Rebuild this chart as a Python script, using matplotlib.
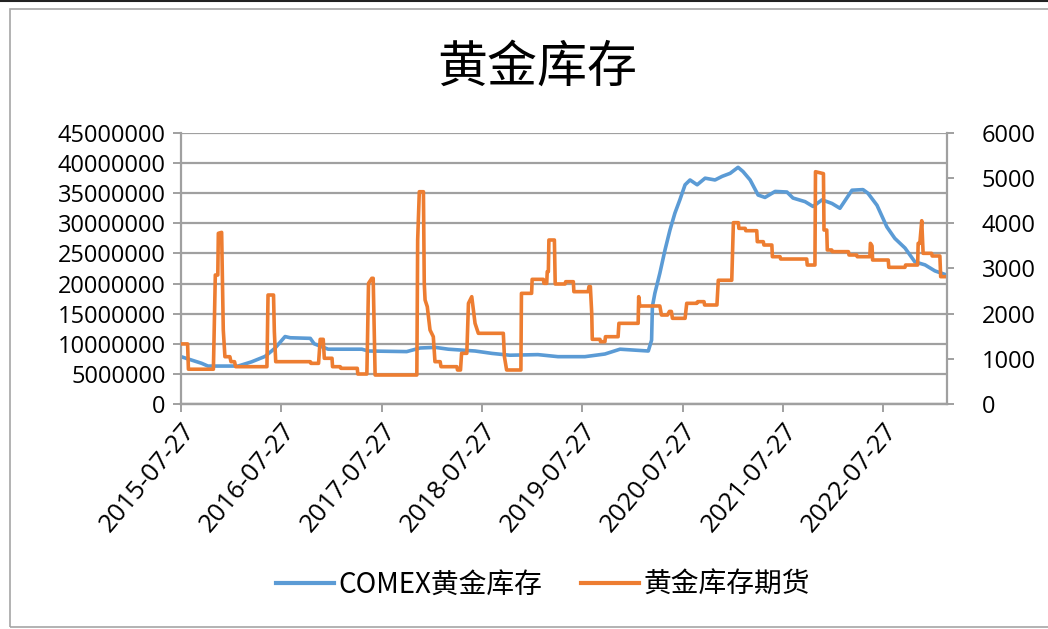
import matplotlib
matplotlib.use("Agg")
import matplotlib.pyplot as plt
import matplotlib.dates as mdates
import pandas as pd
from matplotlib.lines import Line2D

plt.rcParams["font.family"] = ["Noto Sans CJK SC", "DejaVu Sans"]

# COMEX 黄金库存 (左轴)
comex_dates = ["2015-07-27", "2015-10-10", "2015-11-02", "2016-02-20", "2016-04-09", "2016-05-28",
               "2016-07-03", "2016-08-09", "2016-08-28", "2016-11-09", "2016-11-23", "2017-01-13",
               "2017-05-16", "2017-06-08", "2017-10-26", "2017-12-14", "2018-02-07", "2018-03-27",
               "2018-07-02", "2018-09-02", "2018-11-06", "2019-02-16", "2019-04-30", "2019-08-06",
               "2019-10-18", "2019-12-12", "2020-03-24", "2020-04-05", "2020-04-08", "2020-04-17",
               "2020-05-05", "2020-05-24", "2020-06-11", "2020-06-29", "2020-07-17", "2020-08-05",
               "2020-08-23", "2020-09-18", "2020-10-17", "2020-11-22", "2020-12-18", "2021-01-16",
               "2021-02-14", "2021-03-04", "2021-03-30", "2021-04-28", "2021-05-23", "2021-06-29",
               "2021-08-11", "2021-09-02", "2021-10-16", "2021-11-14", "2021-12-17", "2022-01-22",
               "2022-02-20", "2022-04-05", "2022-05-15", "2022-06-02", "2022-07-05", "2022-08-10",
               "2022-09-08", "2022-10-15", "2022-11-20", "2022-12-27", "2023-02-01", "2023-03-17"]
comex_stock = [7860000, 6760000, 6300000, 6300000, 7000000, 7900000,
               9250000, 11200000, 11000000, 10900000, 10000000, 9100000,
               9100000, 8800000, 8700000, 9300000, 9400000, 9100000,
               8800000, 8400000, 8100000, 8200000, 7860000, 7860000,
               8300000, 9100000, 8800000, 10600000, 16200000, 18400000,
               21700000, 25600000, 28900000, 31700000, 33900000, 36400000,
               37200000, 36400000, 37500000, 37200000, 37800000, 38300000,
               39300000, 38600000, 37200000, 34700000, 34300000, 35300000,
               35200000, 34200000, 33600000, 32800000, 33900000, 33300000,
               32500000, 35500000, 35600000, 35000000, 33000000, 29400000,
               27500000, 25900000, 23600000, 23100000, 22100000, 21400000]

# 黄金库存期货 (右轴)
fut_dates = ["2015-07-27", "2015-08-20", "2015-08-23", "2015-11-22", "2015-11-26", "2015-11-29",
             "2015-12-08", "2015-12-10", "2015-12-22", "2015-12-28", "2016-01-03", "2016-01-21",
             "2016-01-25", "2016-02-07", "2016-02-11", "2016-06-04", "2016-06-08", "2016-06-28",
             "2016-07-01", "2016-07-06", "2016-11-09", "2016-11-11", "2016-12-09", "2016-12-15",
             "2016-12-26", "2016-12-30", "2017-01-27", "2017-01-29", "2017-02-26", "2017-02-28",
             "2017-04-29", "2017-05-01", "2017-06-03", "2017-06-09", "2017-06-21", "2017-06-26",
             "2017-07-03", "2017-12-02", "2017-12-05", "2017-12-11", "2017-12-26", "2017-12-29",
             "2018-01-01", "2018-01-09", "2018-01-19", "2018-01-31", "2018-02-06", "2018-02-25",
             "2018-02-28", "2018-04-27", "2018-04-29", "2018-05-10", "2018-05-14", "2018-06-02",
             "2018-06-08", "2018-06-20", "2018-07-02", "2018-07-14", "2018-10-13", "2018-10-17",
             "2018-10-25", "2018-12-16", "2018-12-18", "2019-01-24", "2019-01-26", "2019-03-08",
             "2019-03-10", "2019-03-20", "2019-03-22", "2019-03-26", "2019-03-28", "2019-04-17",
             "2019-04-20", "2019-05-26", "2019-05-28", "2019-06-25", "2019-06-27", "2019-08-18",
             "2019-08-21", "2019-08-26", "2019-08-31", "2019-09-02", "2019-09-30", "2019-10-02",
             "2019-10-18", "2019-10-20", "2019-12-05", "2019-12-08", "2020-02-16", "2020-02-18",
             "2020-02-22", "2020-05-05", "2020-05-11", "2020-06-02", "2020-06-09", "2020-06-16",
             "2020-06-20", "2020-08-05", "2020-08-11", "2020-09-17", "2020-09-20", "2020-10-13",
             "2020-10-15", "2020-11-29", "2020-12-04", "2021-01-22", "2021-01-28", "2021-02-15",
             "2021-02-17", "2021-03-12", "2021-03-14", "2021-04-23", "2021-04-25", "2021-05-17",
             "2021-05-19", "2021-06-17", "2021-06-19", "2021-07-17", "2021-07-19", "2021-10-22",
             "2021-10-24", "2021-11-21", "2021-11-23", "2021-12-22", "2021-12-24", "2022-01-03",
             "2022-01-05", "2022-01-21", "2022-01-23", "2022-03-23", "2022-03-25", "2022-04-22",
             "2022-04-24", "2022-06-09", "2022-06-11", "2022-06-17", "2022-06-19", "2022-08-15",
             "2022-08-17", "2022-10-15", "2022-10-17", "2022-11-30", "2022-12-02", "2022-12-08",
             "2022-12-15", "2022-12-20", "2023-01-20", "2023-01-22", "2023-02-19", "2023-02-22",
             "2023-03-17"]
fut_stock = [1330, 1330, 770, 770, 2000, 2856,
             2856, 3779, 3800, 1638, 1047, 1047,
             937, 937, 826, 826, 2413, 2413,
             1601, 937, 937, 900, 900, 1432,
             1432, 1012, 1012, 826, 826, 790,
             790, 664, 664, 2672, 2783, 2783,
             642, 642, 3631, 4700, 4700, 2672,
             2303, 2155, 1638, 1490, 937, 937,
             826, 826, 753, 753, 1122, 1122,
             2229, 2376, 1786, 1565, 1565, 1047,
             753, 753, 2450, 2450, 2760, 2760,
             2672, 2672, 2930, 2930, 3631, 3631,
             2657, 2657, 2708, 2708, 2487, 2487,
             2600, 2600, 2008, 1432, 1432, 1380,
             1380, 1490, 1490, 1786, 1786, 2376,
             2170, 2170, 1970, 1970, 2050, 2050,
             1897, 1897, 2229, 2229, 2266, 2266,
             2192, 2192, 2740, 2740, 4015, 4015,
             3889, 3889, 3837, 3837, 3594, 3594,
             3520, 3520, 3261, 3261, 3210, 3210,
             3077, 3077, 5143, 5100, 3852, 3852,
             3410, 3410, 3373, 3373, 3299, 3299,
             3261, 3261, 3557, 3500, 3188, 3188,
             3026, 3026, 3077, 3077, 3557, 3557,
             4058, 3336, 3336, 3277, 3277, 2819,
             2819]

year_ticks = ["2015-07-27", "2016-07-27", "2017-07-27", "2018-07-27",
              "2019-07-27", "2020-07-27", "2021-07-27", "2022-07-27"]

W, H = 1048, 629
fig = plt.figure(figsize=(W / 100, H / 100), dpi=100)
ax = fig.add_axes([181 / W, 1 - 404 / H, (947 - 181) / W, (404 - 133) / H])
ax2 = ax.twinx()

grey = "#a0a0a0"

ax.plot(pd.to_datetime(comex_dates), comex_stock, color="#5b9bd5", lw=2.6, solid_joinstyle="round")
ax2.plot(pd.to_datetime(fut_dates), fut_stock, color="#ed7d31", lw=2.6, solid_joinstyle="round")

ax.set_xlim(pd.Timestamp("2015-07-27"), pd.Timestamp("2023-03-17"))
ax.set_ylim(0, 45000000)
ax2.set_ylim(0, 6000)
ax.set_yticks(range(0, 45000001, 5000000))
ax2.set_yticks(range(0, 6001, 1000))
ax.yaxis.set_major_formatter(matplotlib.ticker.FuncFormatter(lambda v, p: f"{int(v)}"))
ax2.yaxis.set_major_formatter(matplotlib.ticker.FuncFormatter(lambda v, p: f"{int(v)}"))

ax.set_xticks(pd.to_datetime(year_ticks))
ax.xaxis.set_major_formatter(mdates.DateFormatter("%Y-%m-%d"))

ax.grid(axis="y", color=grey, lw=1.6)
ax.set_axisbelow(True)

for a in (ax, ax2):
    for s in a.spines.values():
        s.set_visible(False)
    a.spines["bottom"].set_visible(True)
    a.spines["bottom"].set_color(grey)
    a.spines["bottom"].set_linewidth(1.6)
ax.spines["left"].set_visible(True)
ax.spines["left"].set_color(grey)
ax.spines["left"].set_linewidth(1.6)
ax2.spines["right"].set_visible(True)
ax2.spines["right"].set_color(grey)
ax2.spines["right"].set_linewidth(1.6)

ax.tick_params(axis="y", length=6, width=1.4, color=grey, pad=5)
ax.tick_params(axis="x", length=6, width=1.4, color=grey, pad=4)
ax2.tick_params(axis="y", length=5, width=1.4, color=grey, pad=20)

for lab in ax.get_yticklabels() + ax2.get_yticklabels():
    lab.set_fontfamily("Open Sans")
    lab.set_fontsize(17)
for lab in ax.get_xticklabels():
    lab.set_fontfamily("Open Sans")
    lab.set_fontsize(18.5)
    lab.set_rotation(50)
    lab.set_ha("right")
    lab.set_va("top")
    lab.set_rotation_mode("anchor")

fig.text(537 / W, 1 - 68 / H, "黄金库存", ha="center", va="center", fontsize=36)

handles = [Line2D([], [], color="#5b9bd5", lw=3), Line2D([], [], color="#ed7d31", lw=3)]
fig.legend(handles, ["COMEX黄金库存", "黄金库存期货"], loc="center",
           bbox_to_anchor=(543 / W, 1 - 585 / H), ncol=2, frameon=False,
           prop={"family": ["Noto Sans CJK SC", "DejaVu Sans"], "size": 20},
           handlelength=2.1, handletextpad=0.15, columnspacing=1.4)

# 外框
fig.add_artist(plt.Rectangle((10 / W, 1 - 627 / H), 1.2, (627 - 9) / H, transform=fig.transFigure,
                             fill=False, edgecolor="#a6a6a6", lw=1.2))
fig.add_artist(Line2D([0, 1], [1 - 0.8 / H, 1 - 0.8 / H], transform=fig.transFigure, color="#222222", lw=1.5))

fig.savefig("out.png", dpi=100)
